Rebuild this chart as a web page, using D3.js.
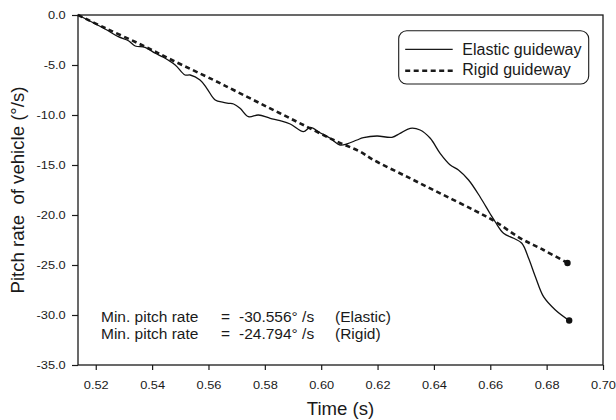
<!DOCTYPE html>
<html>
<head>
<meta charset="utf-8">
<script src="https://cdn.jsdelivr.net/npm/d3@7"></script>
<style>
  body { margin: 0; background: #fff; }
  text { font-family: "Liberation Sans", Arial, sans-serif; fill: #1a1a1a; }
</style>
</head>
<body>
<svg id="chart" width="616" height="420"></svg>
<script>
// Data
var elasticTime = [0.5137, 0.5233, 0.5280, 0.5316, 0.5340, 0.5375, 0.5411, 0.5440, 0.5482, 0.5517,
  0.5535, 0.5570, 0.5594, 0.5624, 0.5653, 0.5671, 0.5689, 0.5712, 0.5742, 0.5777,
  0.5819, 0.5854, 0.5890, 0.5937, 0.5961, 0.5996, 0.6032, 0.6067, 0.6091, 0.6127,
  0.6150, 0.6198, 0.6251, 0.6280, 0.6316, 0.6351, 0.6387, 0.6422, 0.6458, 0.6487,
  0.6523, 0.6564, 0.6600, 0.6618, 0.6647, 0.6683, 0.6712, 0.6736, 0.6760, 0.6789,
  0.6831, 0.6880];
var elasticRate = [0, -1.4, -2.17, -2.57, -3.1, -3.23, -3.83, -4.23, -5.0, -6.0,
  -6.0, -6.5, -7.33, -8.5, -8.73, -8.83, -8.9, -9.33, -10.17, -10.0,
  -10.33, -10.57, -10.9, -11.67, -11.23, -11.77, -12.33, -13.0, -12.9, -12.5,
  -12.27, -12.1, -12.23, -11.83, -11.33, -11.5, -12.33, -13.83, -15.0, -15.5,
  -16.5, -18.2, -19.9, -20.7, -21.83, -22.33, -22.83, -24.33, -26.17, -28.17,
  -29.5, -30.556];

var rigidTime = [0.5137, 0.5233, 0.5363, 0.5470, 0.5618, 0.5689, 0.5807, 0.5925, 0.6044,
  0.6138, 0.6186, 0.6304, 0.6422, 0.6541, 0.6618, 0.6707, 0.6789, 0.6874];
var rigidRate = [0, -1.3, -3.0, -4.5, -6.5, -7.5, -9.17, -10.83, -12.5,
  -13.67, -14.5, -16.17, -17.83, -19.5, -20.67, -22.33, -23.5, -24.794];

var xTicks = [0.52, 0.54, 0.56, 0.58, 0.60, 0.62, 0.64, 0.66, 0.68, 0.70];
var yTicks = [0, -5, -10, -15, -20, -25, -30, -35];

var legendLabels = ["Elastic guideway", "Rigid guideway"];
var noteLabels = ["Min. pitch rate", "Min. pitch rate"];
var noteValues = ["-30.556\u00b0 /s", "-24.794\u00b0 /s"];
var noteCases = ["(Elastic)", "(Rigid)"];

// Frame
var svg = d3.select("#chart");
var margin = {top: 15, right: 13, bottom: 55, left: 78};
var width = +svg.attr("width") - margin.left - margin.right;
var height = +svg.attr("height") - margin.top - margin.bottom;

var g = svg.append("g")
  .attr("transform", "translate(" + margin.left + "," + margin.top + ")");

var x = d3.scaleLinear().domain([0.5137, 0.70]).range([0, width]);
var y = d3.scaleLinear().domain([-35, 0]).range([height, 0]);

var stretch = 1.22; // tick labels in the picture are wide

// Axes
var xAxis = g.append("g")
  .attr("transform", "translate(0," + height + ")")
  .call(d3.axisBottom(x).tickValues(xTicks).tickSize(5).tickPadding(12)
    .tickFormat(function(d) { return d.toFixed(2); }));

var yAxis = g.append("g")
  .call(d3.axisLeft(y).tickValues(yTicks).tickSize(6)
    .tickFormat(function(d) { return d.toFixed(1); }));

[xAxis, yAxis].forEach(function(a) {
  a.select(".domain").remove();
  a.selectAll(".tick line").attr("stroke", "#1a1a1a").attr("stroke-width", 1.2);
  a.selectAll(".tick text")
    .attr("font-size", 10.5)
    .attr("font-family", "Liberation Sans, Arial, sans-serif")
    .attr("fill", "#1a1a1a")
    .attr("transform", "scale(" + stretch + ",1)");
});
yAxis.selectAll(".tick text").attr("x", -12.3 / stretch);

g.append("rect")
  .attr("width", width)
  .attr("height", height)
  .attr("fill", "none")
  .attr("stroke", "#1a1a1a")
  .attr("stroke-width", 1.3);

// Lines
var elastic = elasticTime.map(function(t, i) { return [t, elasticRate[i]]; });
var rigid = rigidTime.map(function(t, i) { return [t, rigidRate[i]]; });

var line = d3.line()
  .x(function(d) { return x(d[0]); })
  .y(function(d) { return y(d[1]); })
  .curve(d3.curveCatmullRom.alpha(0.5));

g.append("path")
  .datum(rigid)
  .attr("d", line)
  .attr("fill", "none")
  .attr("stroke", "#1a1a1a")
  .attr("stroke-width", 2.6)
  .attr("stroke-dasharray", "5,3.5");

g.append("path")
  .datum(elastic)
  .attr("d", line)
  .attr("fill", "none")
  .attr("stroke", "#111")
  .attr("stroke-width", 1.3);

// End markers
g.selectAll(".end")
  .data([elastic[elastic.length - 1], rigid[rigid.length - 1]])
  .enter().append("circle")
  .attr("class", "end")
  .attr("cx", function(d) { return x(d[0]); })
  .attr("cy", function(d) { return y(d[1]); })
  .attr("r", 3.2)
  .attr("fill", "#111");

// Legend
var legend = g.append("g").attr("transform", "translate(" + (398.7 - margin.left) + "," + (30.7 - margin.top) + ")");
legend.append("rect")
  .attr("width", 190)
  .attr("height", 53.3)
  .attr("rx", 8)
  .attr("fill", "#fff")
  .attr("stroke", "#1a1a1a")
  .attr("stroke-width", 1.1);

legendLabels.forEach(function(label, i) {
  legend.append("line")
    .attr("x1", 6.5).attr("x2", 54)
    .attr("y1", 18.6 + i * 21.4).attr("y2", 18.6 + i * 21.4)
    .attr("stroke", "#1a1a1a")
    .attr("stroke-width", i === 0 ? 1.3 : 2.6)
    .attr("stroke-dasharray", i === 0 ? null : "5,3.5");
  legend.append("text")
    .attr("x", 63.6)
    .attr("y", 24.3 + i * 20.5)
    .attr("font-size", 16)
    .text(label);
});

// Notes with minimum values
noteLabels.forEach(function(label, i) {
  var yy = 321.7 + i * 17.3 - margin.top;
  g.append("text").attr("x", 101 - margin.left).attr("y", yy).attr("font-size", 15.5).text(label);
  g.append("text").attr("x", 221 - margin.left).attr("y", yy).attr("font-size", 15.5).text("=");
  g.append("text").attr("x", 239 - margin.left).attr("y", yy).attr("font-size", 15.5).text(noteValues[i]);
  g.append("text").attr("x", 335 - margin.left).attr("y", yy).attr("font-size", 15.5).text(noteCases[i]);
});

// Axis titles
svg.append("text")
  .attr("x", margin.left + width / 2)
  .attr("y", 415)
  .attr("text-anchor", "middle")
  .attr("font-size", 18.6)
  .text("Time (s)");

svg.append("text")
  .attr("transform", "translate(24," + (margin.top + height / 2) + ") rotate(-90)")
  .attr("text-anchor", "middle")
  .attr("font-size", 18.6)
  .style("white-space", "pre")
  .text("Pitch rate  of vehicle (\u00b0/s)");
</script>
</body>
</html>
